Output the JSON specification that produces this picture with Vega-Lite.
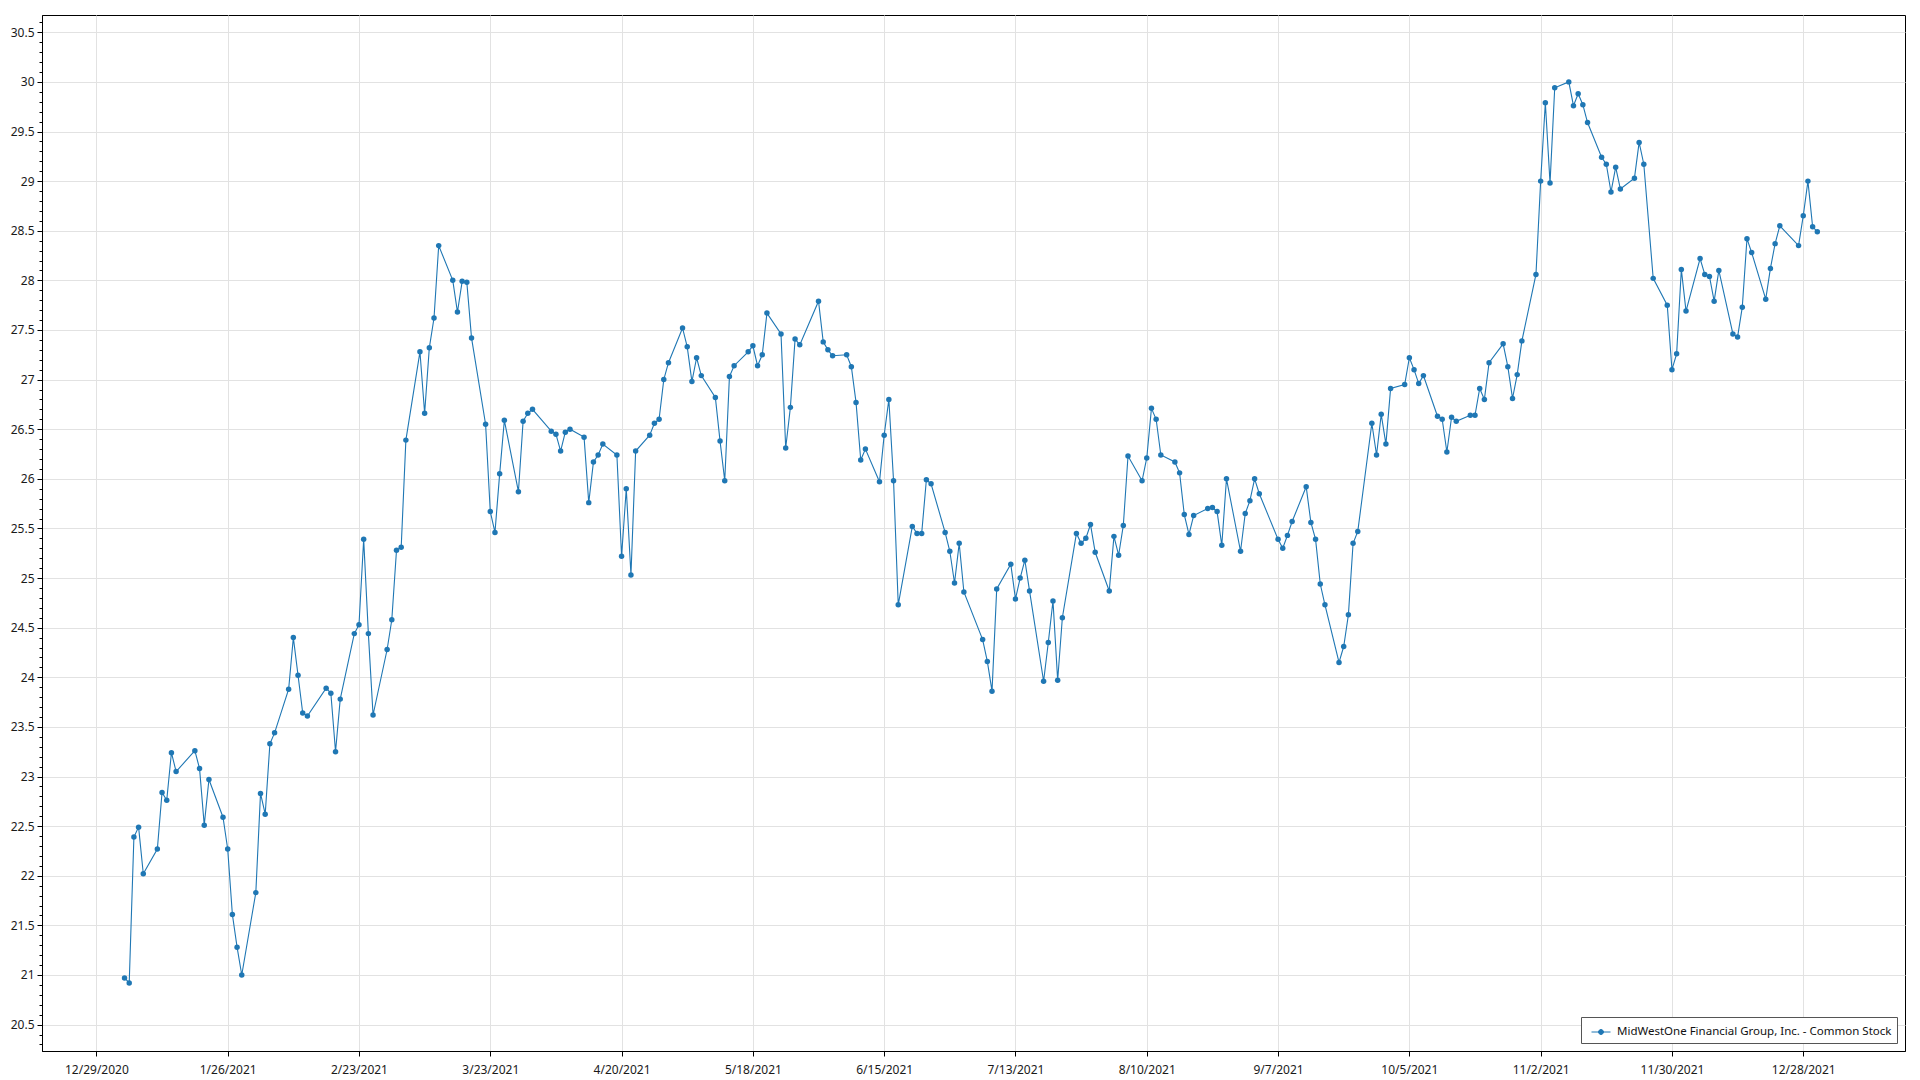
{
  "$schema": "https://vega.github.io/schema/vega-lite/v6.json",
  "autosize": {"type": "none"},
  "padding": {"left": 42, "top": 15, "right": 15, "bottom": 29},
  "width": 1863,
  "height": 1036,
  "background": "white",
  "config": {
    "view": {"stroke": "#000000", "strokeWidth": 1},
    "font": "Noto Sans"
  },
  "data": {
    "values": [
      {"date": "2021-01-04", "close": 20.97}, {"date": "2021-01-05", "close": 20.92}, {"date": "2021-01-06", "close": 22.39}, {"date": "2021-01-07", "close": 22.49}, {"date": "2021-01-08", "close": 22.02},
      {"date": "2021-01-11", "close": 22.27}, {"date": "2021-01-12", "close": 22.84}, {"date": "2021-01-13", "close": 22.76}, {"date": "2021-01-14", "close": 23.24}, {"date": "2021-01-15", "close": 23.05},
      {"date": "2021-01-19", "close": 23.26}, {"date": "2021-01-20", "close": 23.08}, {"date": "2021-01-21", "close": 22.51}, {"date": "2021-01-22", "close": 22.97},
      {"date": "2021-01-25", "close": 22.59}, {"date": "2021-01-26", "close": 22.27}, {"date": "2021-01-27", "close": 21.61}, {"date": "2021-01-28", "close": 21.28}, {"date": "2021-01-29", "close": 21.00},
      {"date": "2021-02-01", "close": 21.83}, {"date": "2021-02-02", "close": 22.83}, {"date": "2021-02-03", "close": 22.62}, {"date": "2021-02-04", "close": 23.33}, {"date": "2021-02-05", "close": 23.44},
      {"date": "2021-02-08", "close": 23.88}, {"date": "2021-02-09", "close": 24.40}, {"date": "2021-02-10", "close": 24.02}, {"date": "2021-02-11", "close": 23.64}, {"date": "2021-02-12", "close": 23.61},
      {"date": "2021-02-16", "close": 23.89}, {"date": "2021-02-17", "close": 23.84}, {"date": "2021-02-18", "close": 23.25}, {"date": "2021-02-19", "close": 23.78},
      {"date": "2021-02-22", "close": 24.44}, {"date": "2021-02-23", "close": 24.53}, {"date": "2021-02-24", "close": 25.39}, {"date": "2021-02-25", "close": 24.44}, {"date": "2021-02-26", "close": 23.62},
      {"date": "2021-03-01", "close": 24.28}, {"date": "2021-03-02", "close": 24.58}, {"date": "2021-03-03", "close": 25.28}, {"date": "2021-03-04", "close": 25.31}, {"date": "2021-03-05", "close": 26.39},
      {"date": "2021-03-08", "close": 27.28}, {"date": "2021-03-09", "close": 26.66}, {"date": "2021-03-10", "close": 27.32}, {"date": "2021-03-11", "close": 27.62}, {"date": "2021-03-12", "close": 28.35},
      {"date": "2021-03-15", "close": 28.00}, {"date": "2021-03-16", "close": 27.68}, {"date": "2021-03-17", "close": 27.99}, {"date": "2021-03-18", "close": 27.98}, {"date": "2021-03-19", "close": 27.42},
      {"date": "2021-03-22", "close": 26.55}, {"date": "2021-03-23", "close": 25.67}, {"date": "2021-03-24", "close": 25.46}, {"date": "2021-03-25", "close": 26.05}, {"date": "2021-03-26", "close": 26.59},
      {"date": "2021-03-29", "close": 25.87}, {"date": "2021-03-30", "close": 26.58}, {"date": "2021-03-31", "close": 26.66}, {"date": "2021-04-01", "close": 26.70},
      {"date": "2021-04-05", "close": 26.48}, {"date": "2021-04-06", "close": 26.45}, {"date": "2021-04-07", "close": 26.28}, {"date": "2021-04-08", "close": 26.47}, {"date": "2021-04-09", "close": 26.50},
      {"date": "2021-04-12", "close": 26.42}, {"date": "2021-04-13", "close": 25.76}, {"date": "2021-04-14", "close": 26.17}, {"date": "2021-04-15", "close": 26.24}, {"date": "2021-04-16", "close": 26.35},
      {"date": "2021-04-19", "close": 26.24}, {"date": "2021-04-20", "close": 25.22}, {"date": "2021-04-21", "close": 25.90}, {"date": "2021-04-22", "close": 25.03}, {"date": "2021-04-23", "close": 26.28},
      {"date": "2021-04-26", "close": 26.44}, {"date": "2021-04-27", "close": 26.56}, {"date": "2021-04-28", "close": 26.60}, {"date": "2021-04-29", "close": 27.00}, {"date": "2021-04-30", "close": 27.17},
      {"date": "2021-05-03", "close": 27.52}, {"date": "2021-05-04", "close": 27.33}, {"date": "2021-05-05", "close": 26.98}, {"date": "2021-05-06", "close": 27.22}, {"date": "2021-05-07", "close": 27.04},
      {"date": "2021-05-10", "close": 26.82}, {"date": "2021-05-11", "close": 26.38}, {"date": "2021-05-12", "close": 25.98}, {"date": "2021-05-13", "close": 27.03}, {"date": "2021-05-14", "close": 27.14},
      {"date": "2021-05-17", "close": 27.28}, {"date": "2021-05-18", "close": 27.34}, {"date": "2021-05-19", "close": 27.14}, {"date": "2021-05-20", "close": 27.25}, {"date": "2021-05-21", "close": 27.67},
      {"date": "2021-05-24", "close": 27.46}, {"date": "2021-05-25", "close": 26.31}, {"date": "2021-05-26", "close": 26.72}, {"date": "2021-05-27", "close": 27.41}, {"date": "2021-05-28", "close": 27.35},
      {"date": "2021-06-01", "close": 27.79}, {"date": "2021-06-02", "close": 27.38}, {"date": "2021-06-03", "close": 27.30}, {"date": "2021-06-04", "close": 27.24},
      {"date": "2021-06-07", "close": 27.25}, {"date": "2021-06-08", "close": 27.13}, {"date": "2021-06-09", "close": 26.77}, {"date": "2021-06-10", "close": 26.19}, {"date": "2021-06-11", "close": 26.30},
      {"date": "2021-06-14", "close": 25.97}, {"date": "2021-06-15", "close": 26.44}, {"date": "2021-06-16", "close": 26.80}, {"date": "2021-06-17", "close": 25.98}, {"date": "2021-06-18", "close": 24.73},
      {"date": "2021-06-21", "close": 25.52}, {"date": "2021-06-22", "close": 25.45}, {"date": "2021-06-23", "close": 25.45}, {"date": "2021-06-24", "close": 25.99}, {"date": "2021-06-25", "close": 25.95},
      {"date": "2021-06-28", "close": 25.46}, {"date": "2021-06-29", "close": 25.27}, {"date": "2021-06-30", "close": 24.95}, {"date": "2021-07-01", "close": 25.35}, {"date": "2021-07-02", "close": 24.86},
      {"date": "2021-07-06", "close": 24.38}, {"date": "2021-07-07", "close": 24.16}, {"date": "2021-07-08", "close": 23.86}, {"date": "2021-07-09", "close": 24.89},
      {"date": "2021-07-12", "close": 25.14}, {"date": "2021-07-13", "close": 24.79}, {"date": "2021-07-14", "close": 25.00}, {"date": "2021-07-15", "close": 25.18}, {"date": "2021-07-16", "close": 24.87},
      {"date": "2021-07-19", "close": 23.96}, {"date": "2021-07-20", "close": 24.35}, {"date": "2021-07-21", "close": 24.77}, {"date": "2021-07-22", "close": 23.97}, {"date": "2021-07-23", "close": 24.60},
      {"date": "2021-07-26", "close": 25.45}, {"date": "2021-07-27", "close": 25.35}, {"date": "2021-07-28", "close": 25.40}, {"date": "2021-07-29", "close": 25.54}, {"date": "2021-07-30", "close": 25.26},
      {"date": "2021-08-02", "close": 24.87}, {"date": "2021-08-03", "close": 25.42}, {"date": "2021-08-04", "close": 25.23}, {"date": "2021-08-05", "close": 25.53}, {"date": "2021-08-06", "close": 26.23},
      {"date": "2021-08-09", "close": 25.98}, {"date": "2021-08-10", "close": 26.21}, {"date": "2021-08-11", "close": 26.71}, {"date": "2021-08-12", "close": 26.60}, {"date": "2021-08-13", "close": 26.24},
      {"date": "2021-08-16", "close": 26.17}, {"date": "2021-08-17", "close": 26.06}, {"date": "2021-08-18", "close": 25.64}, {"date": "2021-08-19", "close": 25.44}, {"date": "2021-08-20", "close": 25.63},
      {"date": "2021-08-23", "close": 25.70}, {"date": "2021-08-24", "close": 25.71}, {"date": "2021-08-25", "close": 25.67}, {"date": "2021-08-26", "close": 25.33}, {"date": "2021-08-27", "close": 26.00},
      {"date": "2021-08-30", "close": 25.27}, {"date": "2021-08-31", "close": 25.65}, {"date": "2021-09-01", "close": 25.78}, {"date": "2021-09-02", "close": 26.00}, {"date": "2021-09-03", "close": 25.85},
      {"date": "2021-09-07", "close": 25.39}, {"date": "2021-09-08", "close": 25.30}, {"date": "2021-09-09", "close": 25.43}, {"date": "2021-09-10", "close": 25.57},
      {"date": "2021-09-13", "close": 25.92}, {"date": "2021-09-14", "close": 25.56}, {"date": "2021-09-15", "close": 25.39}, {"date": "2021-09-16", "close": 24.94}, {"date": "2021-09-17", "close": 24.73},
      {"date": "2021-09-20", "close": 24.15}, {"date": "2021-09-21", "close": 24.31}, {"date": "2021-09-22", "close": 24.63}, {"date": "2021-09-23", "close": 25.35}, {"date": "2021-09-24", "close": 25.47},
      {"date": "2021-09-27", "close": 26.56}, {"date": "2021-09-28", "close": 26.24}, {"date": "2021-09-29", "close": 26.65}, {"date": "2021-09-30", "close": 26.35}, {"date": "2021-10-01", "close": 26.91},
      {"date": "2021-10-04", "close": 26.95}, {"date": "2021-10-05", "close": 27.22}, {"date": "2021-10-06", "close": 27.10}, {"date": "2021-10-07", "close": 26.96}, {"date": "2021-10-08", "close": 27.04},
      {"date": "2021-10-11", "close": 26.63}, {"date": "2021-10-12", "close": 26.60}, {"date": "2021-10-13", "close": 26.27}, {"date": "2021-10-14", "close": 26.62}, {"date": "2021-10-15", "close": 26.58},
      {"date": "2021-10-18", "close": 26.64}, {"date": "2021-10-19", "close": 26.64}, {"date": "2021-10-20", "close": 26.91}, {"date": "2021-10-21", "close": 26.80}, {"date": "2021-10-22", "close": 27.17},
      {"date": "2021-10-25", "close": 27.36}, {"date": "2021-10-26", "close": 27.13}, {"date": "2021-10-27", "close": 26.81}, {"date": "2021-10-28", "close": 27.05}, {"date": "2021-10-29", "close": 27.39},
      {"date": "2021-11-01", "close": 28.06}, {"date": "2021-11-02", "close": 29.00}, {"date": "2021-11-03", "close": 29.79}, {"date": "2021-11-04", "close": 28.98}, {"date": "2021-11-05", "close": 29.94},
      {"date": "2021-11-08", "close": 30.00}, {"date": "2021-11-09", "close": 29.76}, {"date": "2021-11-10", "close": 29.88}, {"date": "2021-11-11", "close": 29.77}, {"date": "2021-11-12", "close": 29.59},
      {"date": "2021-11-15", "close": 29.24}, {"date": "2021-11-16", "close": 29.17}, {"date": "2021-11-17", "close": 28.89}, {"date": "2021-11-18", "close": 29.14}, {"date": "2021-11-19", "close": 28.92},
      {"date": "2021-11-22", "close": 29.03}, {"date": "2021-11-23", "close": 29.39}, {"date": "2021-11-24", "close": 29.17}, {"date": "2021-11-26", "close": 28.02},
      {"date": "2021-11-29", "close": 27.75}, {"date": "2021-11-30", "close": 27.10}, {"date": "2021-12-01", "close": 27.26}, {"date": "2021-12-02", "close": 28.11}, {"date": "2021-12-03", "close": 27.69},
      {"date": "2021-12-06", "close": 28.22}, {"date": "2021-12-07", "close": 28.06}, {"date": "2021-12-08", "close": 28.04}, {"date": "2021-12-09", "close": 27.79}, {"date": "2021-12-10", "close": 28.10},
      {"date": "2021-12-13", "close": 27.46}, {"date": "2021-12-14", "close": 27.43}, {"date": "2021-12-15", "close": 27.73}, {"date": "2021-12-16", "close": 28.42}, {"date": "2021-12-17", "close": 28.28},
      {"date": "2021-12-20", "close": 27.81}, {"date": "2021-12-21", "close": 28.12}, {"date": "2021-12-22", "close": 28.37}, {"date": "2021-12-23", "close": 28.55},
      {"date": "2021-12-27", "close": 28.35}, {"date": "2021-12-28", "close": 28.65}, {"date": "2021-12-29", "close": 29.00}, {"date": "2021-12-30", "close": 28.54}, {"date": "2021-12-31", "close": 28.49}
    ]
  },
  "mark": {"type": "line", "strokeWidth": 1.1, "point": {"filled": true, "size": 30}},
  "encoding": {
    "x": {
      "field": "date",
      "type": "temporal",
      "title": null,
      "scale": {
        "type": "utc",
        "domain": [
          {"year": 2020, "month": 12, "date": 17, "hours": 9, "minutes": 36, "utc": true},
          {"year": 2022, "month": 1, "date": 18, "hours": 16, "minutes": 48, "utc": true}
        ]
      },
      "axis": {
        "values": [
          {"year": 2020, "month": 12, "date": 29, "utc": true},
          {"year": 2021, "month": 1, "date": 26, "utc": true},
          {"year": 2021, "month": 2, "date": 23, "utc": true},
          {"year": 2021, "month": 3, "date": 23, "utc": true},
          {"year": 2021, "month": 4, "date": 20, "utc": true},
          {"year": 2021, "month": 5, "date": 18, "utc": true},
          {"year": 2021, "month": 6, "date": 15, "utc": true},
          {"year": 2021, "month": 7, "date": 13, "utc": true},
          {"year": 2021, "month": 8, "date": 10, "utc": true},
          {"year": 2021, "month": 9, "date": 7, "utc": true},
          {"year": 2021, "month": 10, "date": 5, "utc": true},
          {"year": 2021, "month": 11, "date": 2, "utc": true},
          {"year": 2021, "month": 11, "date": 30, "utc": true},
          {"year": 2021, "month": 12, "date": 28, "utc": true}
        ],
        "labelExpr": "utcFormat(datum.value, '%-m/%-d/%Y')",
        "labelFont": "Noto Sans",
        "labelFontSize": 12,
        "labelColor": "#1a1a1a",
        "labelPadding": 8,
        "labelOverlap": false,
        "labelFlush": false,
        "tickSize": 5,
        "tickColor": "#000000",
        "domainColor": "#000000",
        "gridColor": "#e2e2e2",
        "gridWidth": 1
      }
    },
    "y": {
      "field": "close",
      "type": "quantitative",
      "title": null,
      "scale": {"domain": [20.234, 30.674], "nice": false, "zero": false},
      "axis": {
        "tickCount": 100,
        "labelExpr": "abs(datum.value * 2 - round(datum.value * 2)) < 0.001 ? '' + (round(datum.value * 2) / 2) : ''",
        "labelFont": "Noto Sans",
        "labelFontSize": 12,
        "labelColor": "#1a1a1a",
        "labelPadding": 3,
        "labelOverlap": false,
        "labelFlush": false,
        "labelBound": false,
        "tickColor": "#000000",
        "tickSize": {"condition": {"test": "abs(datum.value * 2 - round(datum.value * 2)) < 0.001", "value": 5}, "value": 3},
        "domainColor": "#000000",
        "gridColor": "#e2e2e2",
        "gridWidth": 1,
        "gridOpacity": {"condition": {"test": "abs(datum.value * 2 - round(datum.value * 2)) < 0.001", "value": 1}, "value": 0}
      }
    },
    "color": {
      "datum": "MidWestOne Financial Group, Inc. - Common Stock",
      "scale": {"range": ["#1f77b4"]},
      "legend": {
        "title": null,
        "orient": "none",
        "legendX": 1539,
        "legendY": 1002,
        "fillColor": "#ffffff",
        "strokeColor": "#555555",
        "padding": 5,
        "symbolOffset": 5,
        "symbolType": "M-1,0L1,0M-0.26,0a0.26,0.26 0 1,0 0.52,0a0.26,0.26 0 1,0 -0.52,0",
        "symbolSize": 361,
        "symbolStrokeWidth": 1,
        "labelFont": "Noto Sans",
        "labelFontSize": 11.5,
        "labelColor": "#111111",
        "labelOffset": 6,
        "labelLimit": 400,
        "encode": {
          "symbols": {"update": {"fill": {"value": "#1f77b4"}, "stroke": {"value": "#1f77b4"}, "strokeWidth": {"value": 1}}}
        }
      }
    }
  }
}
